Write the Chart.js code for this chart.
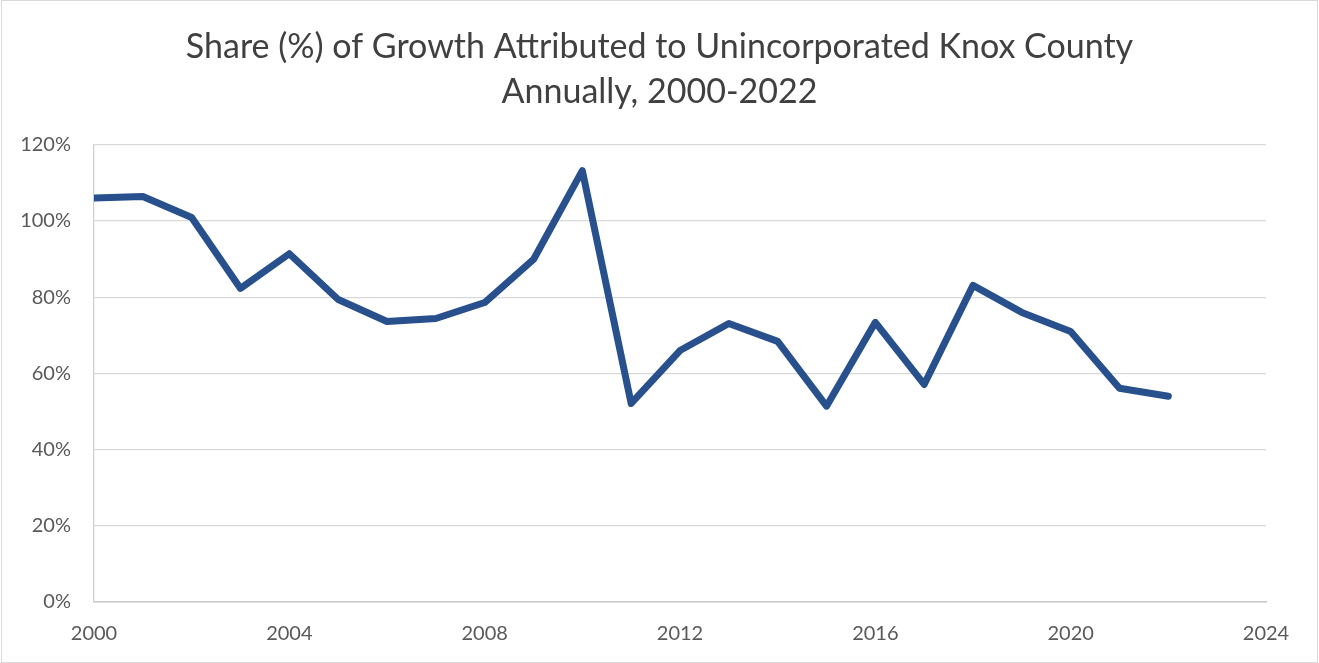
<!DOCTYPE html>
<html>
<head>
<meta charset="utf-8">
<script src="https://cdn.jsdelivr.net/npm/chart.js@4"></script>
<style>
  body { margin: 0; background: #fff; }
  #wrap { position: relative; width: 1319px; height: 663px; }
  #frame { position: absolute; left: 1px; top: 0; width: 1315px; height: 661px; border: 1px solid #d9d9d9; pointer-events: none; }
</style>
</head>
<body>
<div id="wrap">
  <canvas id="shareChart" width="1319" height="663"></canvas>
  <div id="frame"></div>
</div>
<script>
// DATA
const years = [2000, 2001, 2002, 2003, 2004, 2005, 2006, 2007, 2008, 2009, 2010, 2011,
               2012, 2013, 2014, 2015, 2016, 2017, 2018, 2019, 2020, 2021, 2022];
const sharePct = [106, 106.4, 100.9, 82.3, 91.4, 79.4, 73.6, 74.4, 78.6, 89.9, 113.2, 52.1,
                  66.0, 73.1, 68.4, 51.4, 73.4, 57.1, 83.1, 76.0, 71.0, 56.1, 54.0];
const titleLines = ["Share (%) of Growth Attributed to Unincorporated Knox County", "Annually, 2000-2022"];
const xTicks = [2000, 2004, 2008, 2012, 2016, 2020, 2024];
const yTicks = [0, 20, 40, 60, 80, 100, 120];

const points = years.map((y, i) => ({ x: y, y: sharePct[i] }));
const FONT = "Lato, 'Open Sans', sans-serif";

// CHART
const ctx = document.getElementById("shareChart");
new Chart(ctx, {
  type: "line",
  data: {
    datasets: [{
      label: "Share",
      data: points,
      borderColor: "#27508D",
      borderWidth: 7,
      pointRadius: 0,
      tension: 0,
      borderJoinStyle: "round",
      borderCapStyle: "round",
      fill: false
    }]
  },
  options: {
    responsive: false,
    animation: false,
    layout: { padding: 0 },
    plugins: {
      legend: { display: false },
      tooltip: { enabled: false },
      title: {
        display: true,
        text: titleLines,
        color: "#404040",
        font: { family: FONT, size: 34, weight: "normal", lineHeight: 1.32 },
        padding: { top: 25, bottom: 30 }
      }
    },
    scales: {
      x: {
        type: "linear",
        min: xTicks[0],
        max: xTicks[xTicks.length - 1],
        afterBuildTicks: axis => { axis.ticks = xTicks.map(v => ({ value: v })); },
        afterFit: axis => { axis.height = 61; },
        ticks: {
          callback: v => String(v),
          color: "#595959",
          font: { family: FONT, size: 20 },
          padding: 20,
          maxRotation: 0
        },
        grid: { display: false, drawTicks: false },
        border: { display: true, color: "#c8c8c8", width: 1.5 }
      },
      y: {
        min: yTicks[0],
        max: yTicks[yTicks.length - 1],
        afterBuildTicks: axis => { axis.ticks = yTicks.map(v => ({ value: v })); },
        afterFit: axis => { axis.width = 94; },
        ticks: {
          callback: v => v + "%",
          color: "#595959",
          font: { family: FONT, size: 20 },
          padding: 23
        },
        grid: { color: "#d9d9d9", lineWidth: 1.3, drawTicks: false },
        border: { display: true, color: "#d0d0d0", width: 1.3 }
      },
      // empty right axis, only keeps space on the right so the title stays centred
      yRight: {
        position: "right",
        min: 0,
        max: 120,
        afterFit: axis => { axis.width = 53; },
        ticks: { display: false },
        grid: { display: false, drawTicks: false },
        border: { display: false }
      }
    }
  }
});
</script>
</body>
</html>
